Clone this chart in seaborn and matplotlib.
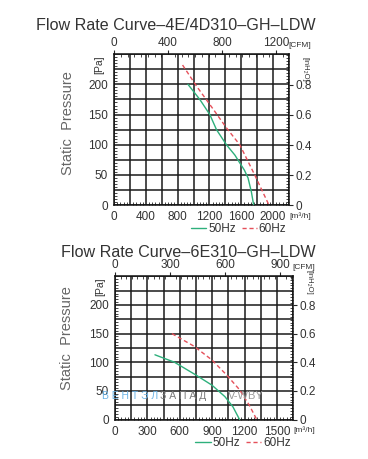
import numpy as np
import pandas as pd
import matplotlib
matplotlib.use("Agg")
import matplotlib.pyplot as plt
from matplotlib.ticker import MultipleLocator, FixedLocator, FuncFormatter
import seaborn as sns

# curve data (m3/h, Pa)
flow_4e_50 = [930, 1079, 1205, 1289, 1414, 1520, 1582, 1640, 1686, 1728, 1757]
pres_4e_50 = [200, 175, 150, 125, 100, 83, 70, 58, 45, 22, 0]
flow_4e_60 = [862, 1038, 1247, 1414, 1582, 1770, 1950]
pres_4e_60 = [232, 197, 159, 128, 100, 50, 0]

flow_6e_50 = [370, 551, 747, 898, 1018, 1093, 1154]
pres_6e_50 = [113, 100, 78, 60, 40, 22, 0]
flow_6e_60 = [527, 732, 898, 1033, 1154, 1244, 1313]
pres_6e_60 = [150, 128, 104, 78, 52, 25, 0]

titles = ["Flow Rate Curve\u20134E/4D310\u2013GH\u2013LDW", "Flow Rate Curve\u20136E310\u2013GH\u2013LDW"]
x_max = [2200, 1650]
x_major = [400, 300]
x_grid = [200, 150]
x_minor = [40, 30]
cfm_major = [400, 300]
cfm_minor = [50, 30]
inh2o_ticks = [0, 0.2, 0.4, 0.6, 0.8]
inh2o_label_y = [0.9, 0.955]

M3H_PER_CFM = 1.699
PA_PER_INH2O = 249.0

sns.set_style("white")
plt.rcParams["font.family"] = ["Liberation Sans", "DejaVu Sans"]
txt = "#333333"

fig = plt.figure(figsize=(3.68, 4.59), dpi=100)
axes = [fig.add_axes([0.310, 0.553, 0.475, 0.329]),
        fig.add_axes([0.3125, 0.086, 0.484, 0.312])]

data = [
    (flow_4e_50, pres_4e_50, flow_4e_60, pres_4e_60),
    (flow_6e_50, pres_6e_50, flow_6e_60, pres_6e_60),
]

for i, ax in enumerate(axes):
    f50, p50, f60, p60 = data[i]
    df = pd.concat([
        pd.DataFrame({"flow": f50, "pres": p50, "freq": "50Hz"}),
        pd.DataFrame({"flow": f60, "pres": p60, "freq": "60Hz"}),
    ])
    sns.lineplot(data=df, x="flow", y="pres", hue="freq", style="freq",
                 palette={"50Hz": "#2eb07c", "60Hz": "#e5505a"},
                 dashes={"50Hz": "", "60Hz": (3, 2)}, sort=False,
                 linewidth=1.0, ax=ax, zorder=3)
    ax.set_xlim(0, x_max[i])
    ax.set_ylim(0, 250)
    ax.set_xlabel("")
    ax.set_ylabel("")

    major = x_major[i]
    ax.xaxis.set_major_locator(MultipleLocator(x_grid[i]))
    ax.xaxis.set_minor_locator(MultipleLocator(x_minor[i]))
    ax.xaxis.set_major_formatter(FuncFormatter(
        lambda v, p, m=major, xm=x_max[i]: f"{v:.0f}" if (round(v) % m == 0 and v < xm - 1) else ""))
    ax.yaxis.set_major_locator(MultipleLocator(25))
    ax.yaxis.set_minor_locator(MultipleLocator(5))
    ax.yaxis.set_major_formatter(FuncFormatter(
        lambda v, p: f"{v:.0f}" if (round(v) % 50 == 0 and v < 249) else ""))

    ax.grid(True, which="major", color="#1a1a1a", linewidth=1.1)
    for s in ax.spines.values():
        s.set_visible(True)
        s.set_color("#111111")
        s.set_linewidth(1.1)
    ax.tick_params(which="major", direction="out", length=3, width=0.8,
                   labelsize=8.5, labelcolor=txt, pad=1.5)
    ax.tick_params(which="minor", direction="in", length=2.5, width=0.6,
                   bottom=True, left=True)

    # top CFM axis
    top = ax.secondary_xaxis("top", functions=(lambda x: x / M3H_PER_CFM,
                                               lambda x: x * M3H_PER_CFM))
    top.xaxis.set_major_locator(MultipleLocator(cfm_major[i]))
    top.xaxis.set_minor_locator(MultipleLocator(cfm_minor[i]))
    top.tick_params(which="major", direction="out", length=3, width=0.8,
                    labelsize=8.5, labelcolor=txt, pad=1)
    top.tick_params(which="minor", direction="in", length=2.5, width=0.6)
    top.spines["top"].set_visible(False)

    # right inH2O axis
    right = ax.secondary_yaxis("right", functions=(lambda y: y / PA_PER_INH2O,
                                                   lambda y: y * PA_PER_INH2O))
    right.yaxis.set_major_locator(FixedLocator(inh2o_ticks))
    right.yaxis.set_minor_locator(MultipleLocator(0.02))
    right.yaxis.set_major_formatter(FuncFormatter(
        lambda v, p: "0" if abs(v) < 1e-6 else f"{v:.1f}"))
    right.tick_params(which="major", direction="out", length=3, width=0.8,
                      labelsize=8.5, labelcolor=txt, pad=1.5)
    right.tick_params(which="minor", direction="in", length=2.5, width=0.6)
    right.spines["right"].set_visible(False)

    # unit labels
    ax.text(1.003, -0.046, "[m\u00b3/h]", transform=ax.transAxes, fontsize=6,
            color=txt, ha="left", va="top")
    ax.text(0.995, 1.035, "[CFM]", transform=ax.transAxes, fontsize=6,
            color=txt, ha="left", va="bottom")
    ax.text(1.09, inh2o_label_y[i], "[inH\u2082O]", transform=ax.transAxes,
            fontsize=5.5, color=txt, ha="center", va="center", rotation=270)
    ax.text(-0.085, 0.93, "[Pa]", transform=ax.transAxes, fontsize=7.5,
            color=txt, ha="center", va="center", rotation=90)

    leg = ax.legend(loc="upper right", bbox_to_anchor=(1.02, -0.08), ncol=2,
                    frameon=False, fontsize=8.5, handlelength=1.3,
                    handletextpad=0.15, columnspacing=0.5, borderpad=0)
    for t in leg.get_texts():
        t.set_color(txt)

fig.text(0.859, 0.944, titles[0], ha="right", va="center", fontsize=11.6, color=txt)
fig.text(0.859, 0.450, titles[1], ha="right", va="center", fontsize=11.6, color=txt)
fig.text(0.185, 0.732, "Static  Pressure", ha="center", va="center",
         rotation=90, fontsize=10.5, color="#666666")
fig.text(0.183, 0.263, "Static  Pressure", ha="center", va="center",
         rotation=90, fontsize=10.5, color="#666666")

# watermark
fig.text(0.277, 0.138, "\u0412 \u0415 \u041d \u0422 \u042d \u041b", fontsize=7.5,
         color="#6cb4e6", ha="left", va="center")
fig.text(0.435, 0.138, "\u0417 \u0410 \u041f \u0410 \u0414", fontsize=7.5,
         color="#7a7a7a", ha="left", va="center")
fig.text(0.620, 0.138, "V-WBY", fontsize=8, color="#9a9a9a", ha="left", va="center")

fig.savefig("out.png", dpi=100)
